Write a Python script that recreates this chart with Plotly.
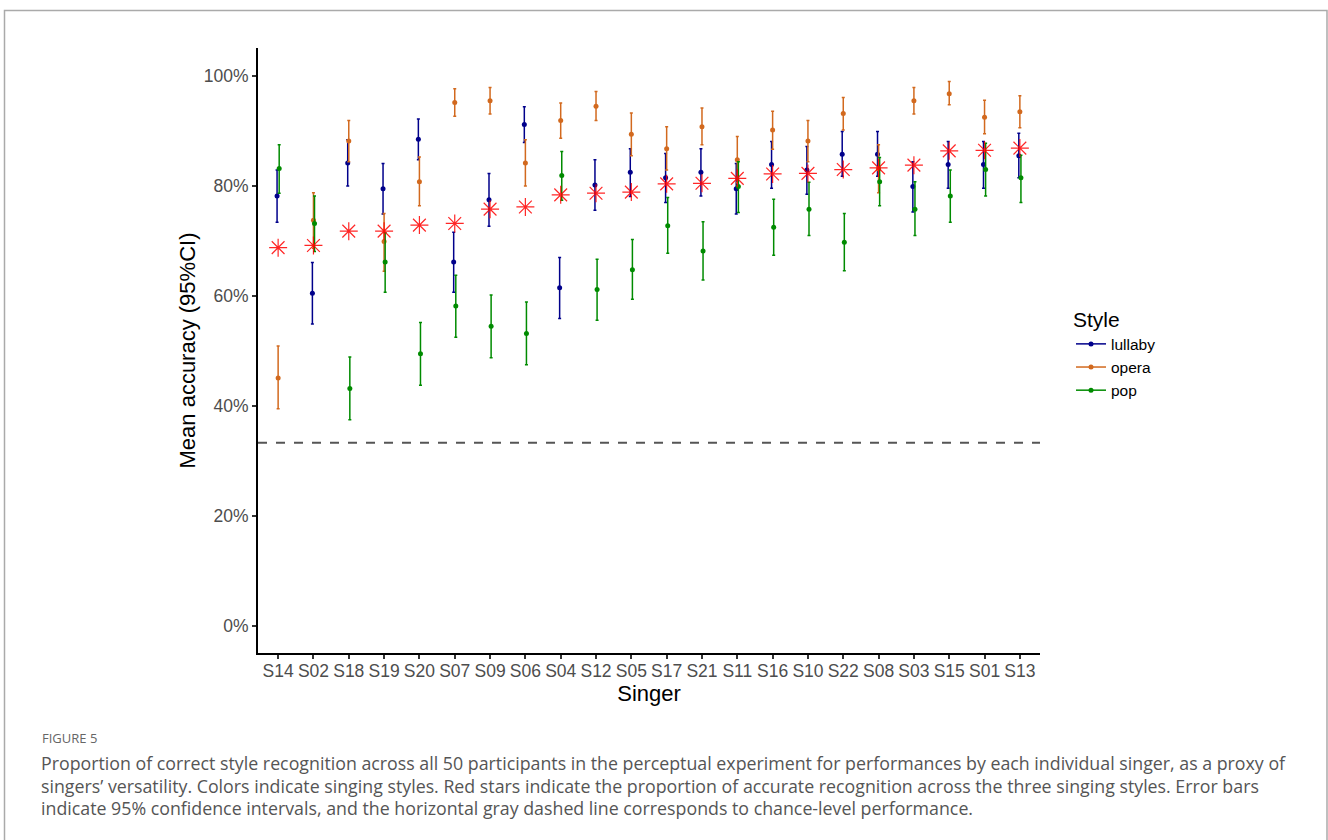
import plotly.graph_objects as go

singers = ["S14","S02","S18","S19","S20","S07","S09","S06","S04","S12","S05",
           "S17","S21","S11","S16","S10","S22","S08","S03","S15","S01","S13"]

lullaby_mean = [78.2, 60.5, 84.2, 79.5, 88.5, 66.2, 77.5, 91.2, 61.5, 80.2, 82.5, 81.5, 82.5, 79.5, 83.9, 82.9, 85.8, 85.8, 79.9, 83.9, 83.9, 85.5]
lullaby_lo   = [73.4, 54.9, 80.0, 74.9, 84.8, 60.7, 72.7, 87.9, 55.9, 75.6, 78.1, 77.0, 78.2, 74.9, 79.6, 78.5, 81.8, 81.8, 75.3, 79.6, 79.6, 81.5]
lullaby_hi   = [82.9, 66.1, 88.4, 84.1, 92.2, 71.6, 82.3, 94.4, 67.0, 84.8, 86.8, 85.9, 86.8, 84.1, 88.1, 87.2, 89.9, 89.9, 84.4, 88.1, 88.1, 89.6]

opera_mean = [45.1, 73.8, 88.2, 69.9, 80.8, 95.2, 95.5, 84.2, 91.9, 94.5, 89.4, 86.8, 90.8, 84.8, 90.2, 88.2, 93.2, 83.1, 95.5, 96.8, 92.5, 93.5]
opera_lo   = [39.5, 68.7, 84.4, 64.5, 76.4, 92.7, 93.1, 80.0, 88.7, 91.9, 85.5, 82.9, 87.5, 80.6, 86.7, 84.4, 90.2, 78.8, 93.1, 94.8, 89.5, 90.6]
opera_hi   = [50.9, 78.8, 91.9, 75.0, 85.3, 97.7, 97.9, 88.4, 95.1, 97.2, 93.3, 90.8, 94.2, 89.0, 93.6, 91.9, 96.1, 87.5, 97.9, 99.0, 95.6, 96.4]

pop_mean = [83.2, 73.2, 43.2, 66.2, 49.5, 58.2, 54.5, 53.2, 81.9, 61.2, 64.8, 72.8, 68.2, 79.9, 72.5, 75.8, 69.8, 80.8, 75.8, 78.2, 83.0, 81.5]
pop_lo   = [78.7, 68.1, 37.5, 60.7, 43.8, 52.5, 48.8, 47.5, 77.4, 55.6, 59.4, 67.8, 62.9, 75.2, 67.4, 71.0, 64.6, 76.4, 71.0, 73.4, 78.2, 77.0]
pop_hi   = [87.5, 78.2, 48.9, 71.5, 55.2, 63.8, 60.2, 58.9, 86.3, 66.7, 70.3, 77.9, 73.5, 84.4, 77.6, 80.7, 75.0, 85.2, 80.8, 82.9, 87.8, 85.6]

overall_mean = [68.8, 69.2, 71.8, 71.8, 72.9, 73.2, 75.8, 76.2, 78.4, 78.7, 78.9, 80.4, 80.5, 81.4, 82.2, 82.3, 83.0, 83.3, 83.8, 86.4, 86.5, 86.9]

chance_level = 1 / 3

y_ticks = [0, 0.2, 0.4, 0.6, 0.8, 1.0]

styles = [
    ("lullaby", "#00008B", lullaby_mean, lullaby_lo, lullaby_hi, -0.03),
    ("opera", "#D2691E", opera_mean, opera_lo, opera_hi, 0.0),
    ("pop", "#008B00", pop_mean, pop_lo, pop_hi, 0.03),
]

# Figure geometry (pixels)
W, H = 1328, 840
L, R, T, B = 258, 1040, 48, 653

def px_x(p):
    return (p - L) / (R - L)

def px_y(p):
    return (B - p) / (B - T)

fig = go.Figure()
xs = list(range(len(singers)))

for name, color, m, lo, hi, off in styles:
    fig.add_trace(go.Scatter(
        x=[i + off for i in xs],
        y=[v / 100 for v in m],
        mode="markers",
        marker=dict(color=color, size=5),
        error_y=dict(type="data", symmetric=False,
                     array=[(h - v) / 100 for h, v in zip(hi, m)],
                     arrayminus=[(v - l) / 100 for v, l in zip(m, lo)],
                     color=color, thickness=1.5, width=1.5),
        showlegend=False, name=name,
    ))

star_color = "rgba(255,0,0,0.85)"
fig.add_trace(go.Scatter(
    x=xs, y=[v / 100 for v in overall_mean], mode="markers",
    marker=dict(symbol="asterisk-open", size=15, color=star_color,
                line=dict(color=star_color, width=1.2)),
    showlegend=False, name="overall",
))

# legend entries
for name, color, *_ in styles:
    fig.add_trace(go.Scatter(
        x=[None], y=[None], mode="lines+markers", name=name,
        line=dict(color=color, width=1.5), marker=dict(color=color, size=5),
    ))

fig.add_shape(type="line", xref="paper", yref="y", x0=0, x1=1,
              y0=chance_level, y1=chance_level,
              line=dict(color="#555555", width=2, dash="dash"))

# outer frame
fig.add_shape(type="rect", xref="paper", yref="paper",
              x0=px_x(4.5), x1=px_x(1327), y0=px_y(10.5), y1=px_y(900),
              line=dict(color="#aaaaaa", width=1.5), layer="below")

cap_font = dict(family="Open Sans", size=17.8, color="#555555")
fig.add_annotation(text="FIGURE 5", xref="paper", yref="paper",
                   x=px_x(40), y=px_y(738), xanchor="left", yanchor="middle",
                   showarrow=False, font=dict(family="Open Sans", size=13, color="#666666"))
cap_lines = [
    "Proportion of correct style recognition across all 50 participants in the perceptual experiment for performances by each individual singer, as a proxy of",
    "singers\u2019 versatility. Colors indicate singing styles. Red stars indicate the proportion of accurate recognition across the three singing styles. Error bars",
    "indicate 95% confidence intervals, and the horizontal gray dashed line corresponds to chance-level performance.",
]
for i, line in enumerate(cap_lines):
    fig.add_annotation(text=line, xref="paper", yref="paper",
                       x=px_x(39), y=px_y(763 + 22.5 * i), xanchor="left", yanchor="middle",
                       showarrow=False, font=cap_font)

fig.update_layout(
    width=W, height=H,
    margin=dict(l=L, r=W - R, t=T, b=H - B, pad=0),
    paper_bgcolor="white", plot_bgcolor="white",
    font=dict(family="Liberation Sans", color="#000000"),
    legend=dict(title=dict(text="Style", font=dict(size=21, color="#000")),
                x=px_x(1071), y=px_y(300), xanchor="left", yanchor="top",
                font=dict(size=15.5, color="#000"), itemwidth=30,
                bgcolor="rgba(0,0,0,0)"),
    xaxis=dict(range=[-0.57, 21.57], tickmode="array", tickvals=xs, ticktext=singers,
               showgrid=False, zeroline=False, showline=True, linecolor="#000", linewidth=2,
               ticks="outside", ticklen=4, tickwidth=1.5, tickcolor="#333",
               ticklabelstandoff=-3,
               tickfont=dict(size=17.5, color="#4d4d4d"),
               title=dict(text="Singer", font=dict(size=22, color="#000"), standoff=0)),
    yaxis=dict(range=[-0.049, 1.051], tickvals=y_ticks, tickformat=".0%",
               showgrid=False, zeroline=False, showline=True, linecolor="#000", linewidth=2,
               ticks="outside", ticklen=4, tickwidth=1.5, tickcolor="#333",
               tickfont=dict(size=17.5, color="#4d4d4d"),
               title=dict(text="Mean accuracy (95%CI)", font=dict(size=22, color="#000"), standoff=2)),
)

fig.write_html("out.html", config={"displayModeBar": False},
               post_script="document.body.style.margin='0px';")
